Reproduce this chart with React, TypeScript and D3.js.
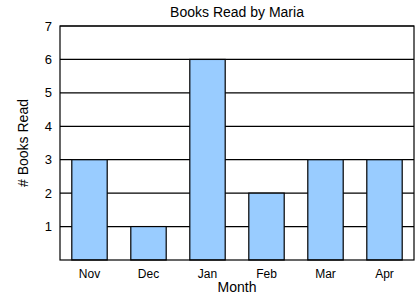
import React from "react";
import * as d3 from "d3";

const months = ["Nov", "Dec", "Jan", "Feb", "Mar", "Apr"];
const books = [3, 1, 6, 2, 3, 3];
const yTicks = [1, 2, 3, 4, 5, 6, 7];

export default function App() {
  const W = 420, H = 300;
  const m = { left: 60, right: 6, top: 26, bottom: 40 };
  const x = d3.scaleBand<string>().domain(months).range([m.left, W - m.right]).paddingInner(0.4).paddingOuter(0.2);
  const y = d3.scaleLinear().domain([0, 7]).range([H - m.bottom, m.top]);
  const font = "Liberation Sans, Arial, sans-serif";
  return (
    <svg width={W} height={H} style={{ position: "absolute", left: 0, top: 0, background: "#fff" }} fontFamily={font}>
      <text x={(m.left + W - m.right) / 2} y={17} textAnchor="middle" fontSize={14}>Books Read by Maria</text>
      {yTicks.map((t) => (
        <g key={t}>
          <line x1={m.left} x2={W - m.right} y1={y(t)} y2={y(t)} stroke="#000" strokeWidth={1.2} />
          <text x={m.left - 8} y={y(t)} dy="0.35em" textAnchor="end" fontSize={13}>{t}</text>
        </g>
      ))}
      {months.map((mo, i) => (
        <rect key={mo} x={x(mo)} y={y(books[i])} width={x.bandwidth()} height={y(0) - y(books[i])} fill="#99ccff" stroke="#000" strokeWidth={1.2} />
      ))}
      <rect x={m.left} y={m.top} width={W - m.right - m.left} height={y(0) - m.top} fill="none" stroke="#000" strokeWidth={1.2} />
      {months.map((mo) => (
        <text key={mo} x={(x(mo) as number) + x.bandwidth() / 2} y={H - m.bottom + 18} textAnchor="middle" fontSize={12}>{mo}</text>
      ))}
      <text x={(m.left + W - m.right) / 2} y={292} textAnchor="middle" fontSize={14}>Month</text>
      <text transform={`translate(28,${(m.top + H - m.bottom) / 2}) rotate(-90)`} textAnchor="middle" fontSize={14}># Books Read</text>
    </svg>
  );
}
